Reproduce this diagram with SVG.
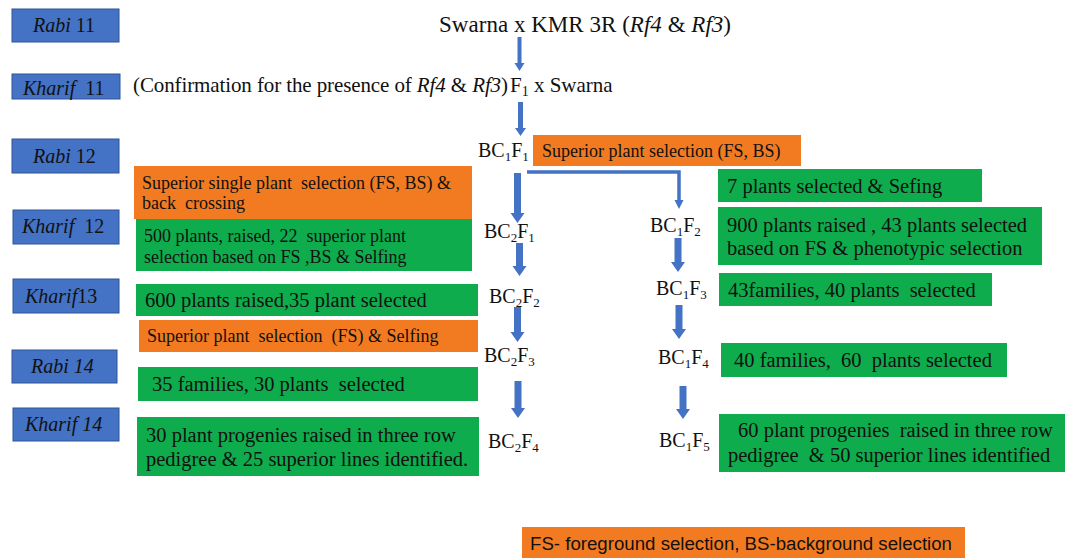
<svg xmlns="http://www.w3.org/2000/svg" width="1070" height="558" viewBox="0 0 1070 558">
<style>
.bg{fill:#ffffff}
.blue{fill:#4472C4;stroke:#2F5597;stroke-width:1}
.green{fill:#0EAC4C}
.orange{fill:#F27B22}
text{fill:#111;white-space:pre}
.t{font-family:"Liberation Serif","Times New Roman",serif}
.s{font-family:"Liberation Sans",Arial,sans-serif}
.arr{fill:#4472C4}
.con{fill:none;stroke:#4472C4;stroke-width:3.5}
</style>
<rect class="bg" x="0" y="0" width="1070" height="558"/>

<!-- Season labels -->
<g id="season-rabi11"><rect class="blue" x="12" y="9" width="107" height="33"/><text class="t" x="33" y="32" font-size="20"><tspan font-style="italic">Rabi</tspan> 11</text></g>
<g id="season-kharif11"><rect class="blue" x="12" y="74" width="108" height="25"/><text class="t" x="23" y="95" font-size="20"><tspan font-style="italic">Kharif</tspan>  11</text></g>
<g id="season-rabi12"><rect class="blue" x="12" y="139" width="107" height="34"/><text class="t" x="33" y="163" font-size="20"><tspan font-style="italic">Rabi</tspan> 12</text></g>
<g id="season-kharif12"><rect class="blue" x="13" y="210" width="106" height="34"/><text class="t" x="22" y="233" font-size="20"><tspan font-style="italic">Kharif</tspan>  12</text></g>
<g id="season-kharif13"><rect class="blue" x="13" y="279" width="106" height="34"/><text class="t" x="25" y="303" font-size="20"><tspan font-style="italic">Kharif</tspan>13</text></g>
<g id="season-rabi14"><rect class="blue" x="12" y="350" width="105" height="33"/><text class="t" x="31" y="373" font-size="20" font-style="italic">Rabi 14</text></g>
<g id="season-kharif14"><rect class="blue" x="13" y="408" width="106" height="33"/><text class="t" x="25" y="431" font-size="20" font-style="italic">Kharif 14</text></g>

<!-- Cross text -->
<g id="cross"><text class="t" x="439" y="32" font-size="23" textLength="292">Swarna x KMR 3R (<tspan font-style="italic">Rf4</tspan> &amp; <tspan font-style="italic">Rf3</tspan>)</text></g>
<g id="confirm"><text class="t" x="133" y="92" font-size="21" textLength="375">(Confirmation for the presence of <tspan font-style="italic">Rf4</tspan> &amp; <tspan font-style="italic">Rf3</tspan>)</text></g>
<g id="f1"><text class="t" x="510" y="92" font-size="21">F<tspan font-size="14" dy="4">1</tspan><tspan dy="-4"> x Swarna</tspan></text></g>

<!-- Generation labels -->
<g id="bc1f1"><text class="t" x="478" y="157" font-size="20">BC<tspan font-size="13" dy="4">1</tspan><tspan dy="-4">F</tspan><tspan font-size="13" dy="4">1</tspan></text></g>
<g id="bc2f1"><text class="t" x="484" y="238" font-size="20">BC<tspan font-size="13" dy="4">2</tspan><tspan dy="-4">F</tspan><tspan font-size="13" dy="4">1</tspan></text></g>
<g id="bc1f2"><text class="t" x="650" y="232" font-size="20">BC<tspan font-size="13" dy="4">1</tspan><tspan dy="-4">F</tspan><tspan font-size="13" dy="4">2</tspan></text></g>
<g id="bc2f2"><text class="t" x="489" y="303" font-size="20">BC<tspan font-size="13" dy="4">2</tspan><tspan dy="-4">F</tspan><tspan font-size="13" dy="4">2</tspan></text></g>
<g id="bc1f3"><text class="t" x="656" y="295" font-size="20">BC<tspan font-size="13" dy="4">1</tspan><tspan dy="-4">F</tspan><tspan font-size="13" dy="4">3</tspan></text></g>
<g id="bc2f3"><text class="t" x="484" y="362" font-size="20">BC<tspan font-size="13" dy="4">2</tspan><tspan dy="-4">F</tspan><tspan font-size="13" dy="4">3</tspan></text></g>
<g id="bc1f4"><text class="t" x="658" y="364" font-size="20">BC<tspan font-size="13" dy="4">1</tspan><tspan dy="-4">F</tspan><tspan font-size="13" dy="4">4</tspan></text></g>
<g id="bc2f4"><text class="t" x="488" y="448" font-size="20">BC<tspan font-size="13" dy="4">2</tspan><tspan dy="-4">F</tspan><tspan font-size="13" dy="4">4</tspan></text></g>
<g id="bc1f5"><text class="t" x="659" y="447" font-size="20">BC<tspan font-size="13" dy="4">1</tspan><tspan dy="-4">F</tspan><tspan font-size="13" dy="4">5</tspan></text></g>

<!-- Left column boxes -->
<g id="box-l1"><rect class="orange" x="134" y="166" width="338" height="53"/><text class="t" x="142" y="189" font-size="18">Superior single plant  selection (FS, BS) &amp;</text><text class="t" x="142" y="209" font-size="18">back  crossing</text></g>
<g id="box-l2"><rect class="green" x="136" y="219" width="336" height="52"/><text class="t" x="144" y="242" font-size="18">500 plants, raised, 22  superior plant</text><text class="t" x="144" y="263" font-size="18">selection based on FS ,BS &amp; Selfing</text></g>
<g id="box-l3"><rect class="green" x="136" y="284" width="342" height="32"/><text class="t" x="145" y="307" font-size="20.5">600 plants raised,35 plant selected</text></g>
<g id="box-l4"><rect class="orange" x="139" y="320" width="339" height="32"/><text class="t" x="147" y="342" font-size="18">Superior plant  selection  (FS) &amp; Selfing</text></g>
<g id="box-l5"><rect class="green" x="138" y="367" width="340" height="34"/><text class="t" x="152" y="391" font-size="20.5">35 families, 30 plants  selected</text></g>
<g id="box-l6"><rect class="green" x="137" y="417" width="342" height="59"/><text class="t" x="146" y="442" font-size="20.5">30 plant progenies raised in three row</text><text class="t" x="146" y="466" font-size="20.5">pedigree &amp; 25 superior lines identified.</text></g>

<!-- Right column boxes -->
<g id="box-r0"><rect class="orange" x="533" y="135" width="268" height="31"/><text class="t" x="542" y="157" font-size="18">Superior plant selection (FS, BS)</text></g>
<g id="box-r1"><rect class="green" x="718" y="169" width="264" height="33"/><text class="t" x="727" y="193" font-size="20.5">7 plants selected &amp; Sefing</text></g>
<g id="box-r2"><rect class="green" x="718" y="207" width="324" height="58"/><text class="t" x="727" y="232" font-size="20.5">900 plants raised , 43 plants selected</text><text class="t" x="727" y="255" font-size="20.5">based on FS &amp; phenotypic selection</text></g>
<g id="box-r3"><rect class="green" x="719" y="273" width="273" height="33"/><text class="t" x="728" y="297" font-size="20.5">43families, 40 plants  selected</text></g>
<g id="box-r4"><rect class="green" x="721" y="343" width="286" height="34"/><text class="t" x="734" y="367" font-size="20.5">40 families,  60  plants selected</text></g>
<g id="box-r5"><rect class="green" x="719" y="414" width="346" height="58"/><text class="t" x="738" y="437" font-size="20.5">60 plant progenies  raised in three row</text><text class="t" x="728" y="462" font-size="20.5">pedigree  &amp; 50 superior lines identified</text></g>

<!-- Legend -->
<g id="legend"><rect class="orange" x="522" y="527" width="443" height="34"/><text class="s" x="530" y="550" font-size="18" textLength="422" lengthAdjust="spacingAndGlyphs">FS- foreground selection, BS-background selection</text></g>

<!-- Connectors -->
<g id="connectors">
<polygon class="arr" points="517.5,37 521.5,37 521.5,63 524.5,63 519.5,71 514.5,63 517.5,63"/>
<polygon class="arr" points="518,102 523,102 523,128 526,128 520.5,136 515,128 518,128"/>
<polygon class="arr" points="514,173 521,173 521,213 524.5,213 517.5,223 510.5,213 514,213"/>
<polygon class="arr" points="516,243 523,243 523,266 526.5,266 519.5,276 512.5,266 516,266"/>
<polygon class="arr" points="514,307 521,307 521,332 524.5,332 517.5,342 510.5,332 514,332"/>
<polygon class="arr" points="514.5,381 521.5,381 521.5,408 525,408 518,418 511,408 514.5,408"/>
<polygon class="arr" points="674.5,238 681.5,238 681.5,262 685,262 678,272 671,262 674.5,262"/>
<polygon class="arr" points="675.5,305 682.5,305 682.5,329 686,329 679,339 672,329 675.5,329"/>
<polygon class="arr" points="679.5,386 686.5,386 686.5,409 690,409 683,419 676,409 679.5,409"/>
<path class="con" d="M527,172 H679 V201"/>
<polygon class="arr" points="674.5,200 683.5,200 679,209"/>
</g>
</svg>
